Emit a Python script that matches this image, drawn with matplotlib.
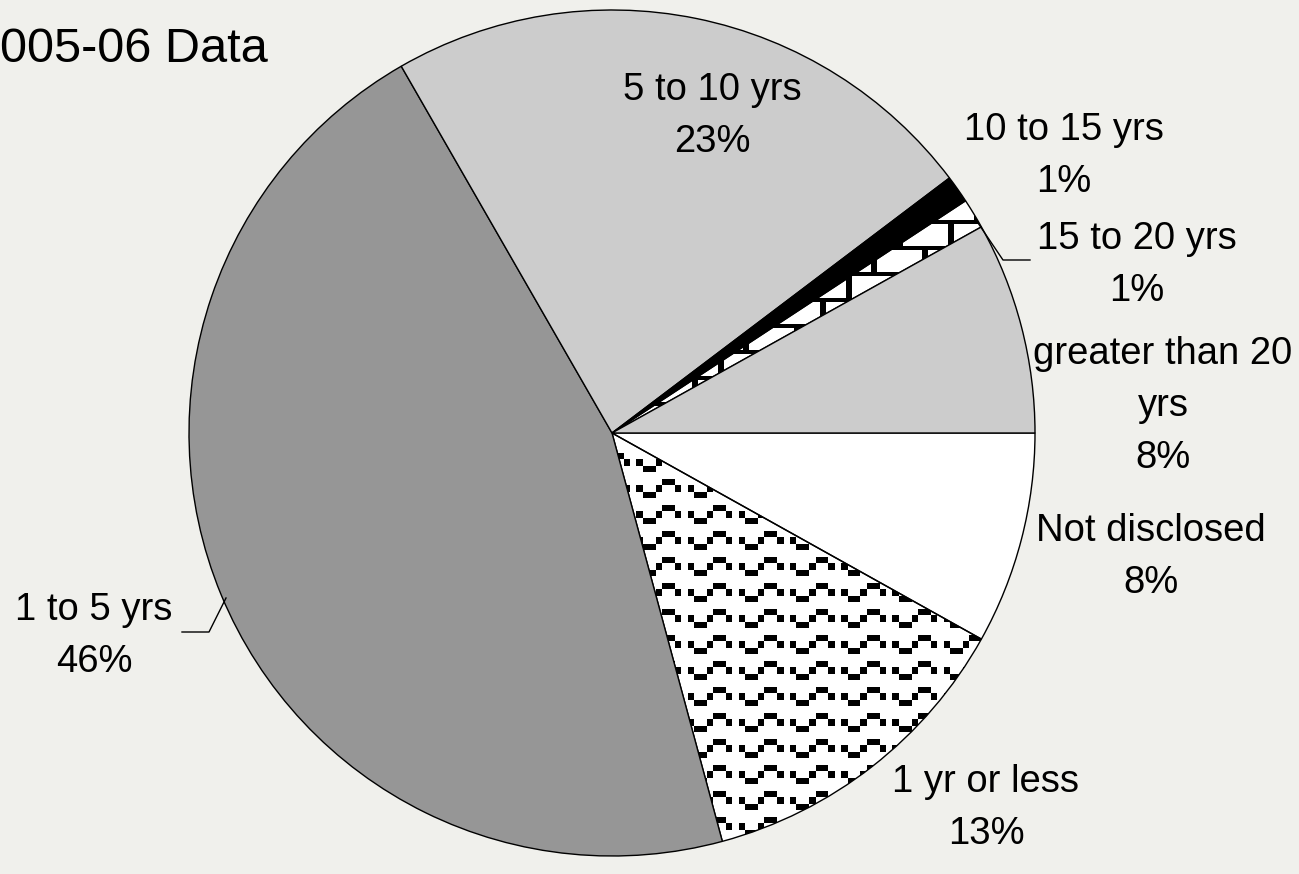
import numpy as np
import matplotlib.pyplot as plt
from matplotlib.colors import ListedColormap

# tenure breakdown, share of respondents (%)
categories = [
    "Not disclosed",
    "1 yr or less",
    "1 to 5 yrs",
    "5 to 10 yrs",
    "10 to 15 yrs",
    "15 to 20 yrs",
    "greater than 20\nyrs",
]
shares = [8.1, 12.7, 45.9, 23.0, 1.05, 1.15, 8.1]
pct_labels = ["8%", "13%", "46%", "23%", "1%", "1%", "8%"]
slice_colors = ["white", "white", "#969696", "#cccccc", "black", "white", "#cccccc"]

# label anchor points, in pixels from the top-left corner
label_xy = [
    (1151, 557),
    (986, 808),
    (94, 636),
    (712, 116),
    (1064, 156),
    (1137, 265),
    (1163, 406),
]

W, H = 1299, 874
cx, cy, R = 612, 433, 423
bg = "#f0f0ec"

fig = plt.figure(figsize=(W / 100, H / 100), dpi=100, facecolor=bg)
ax = fig.add_axes([0, 0, 1, 1])

# y axis runs downwards, so counterclock=True draws clockwise on screen
wedges, _ = ax.pie(
    shares,
    colors=slice_colors,
    startangle=0,
    counterclock=True,
    center=(cx, cy),
    radius=R,
    wedgeprops=dict(edgecolor="black", linewidth=1.0),
)

# pixel grid covering the pie, used for the fill patterns
px = np.arange(cx - R, cx + R) + 0.5
py = np.arange(cy - R, cy + R) + 0.5
X, Y = np.meshgrid(px, py)

# wave pattern: 8 x 4 cells of roughly 6.4 x 6.5 px
wave_tile = np.array([
    [0, 0, 0, 0, 0, 1, 1, 0],
    [0, 1, 0, 0, 1, 0, 0, 1],
    [0, 0, 1, 1, 0, 0, 0, 0],
    [0, 0, 0, 0, 0, 0, 0, 0],
])
ci = np.floor((X - 681.2) / 6.4).astype(int) % 8
ri = np.floor((Y - 531.0) / 6.5).astype(int) % 4
wave = wave_tile[ri, ci]

# horizontal brick pattern
ty = (Y - 220.0) % 52
tx = (X - 948.0) % 51.2
brick = (
    (ty < 4)
    | ((ty >= 26) & (ty < 30))
    | ((ty < 26) & (tx < 6))
    | ((ty >= 30) & (tx >= 25.6) & (tx < 31.6))
).astype(int)

bw = ListedColormap(["white", "black"])
for idx, pattern in [(1, wave), (5, brick)]:
    wedges[idx].set_facecolor("none")
    im = ax.imshow(
        pattern,
        cmap=bw,
        vmin=0,
        vmax=1,
        interpolation="nearest",
        extent=(cx - R, cx + R, cy + R, cy - R),
        zorder=0.5,
    )
    im.set_clip_path(wedges[idx])

# slice labels
for name, pct, (x, y) in zip(categories, pct_labels, label_xy):
    ax.text(
        x, y, f"{name}\n{pct}",
        ha="center", va="center",
        fontsize=27.5, family="Liberation Sans",
        linespacing=1.56,
    )

# leader lines for the labels that sit away from their slices
ax.plot([978, 1003, 1030], [223, 260, 260], color="black", lw=1)
ax.plot([226, 209, 182], [598, 632, 632], color="black", lw=1)

ax.text(
    0, 49, "005-06 Data",
    ha="left", va="center",
    fontsize=35, family="Liberation Sans",
)

ax.set_xlim(0, W)
ax.set_ylim(H, 0)
ax.set_aspect("auto")
ax.axis("off")

fig.savefig("out.png", dpi=100, facecolor=bg)
